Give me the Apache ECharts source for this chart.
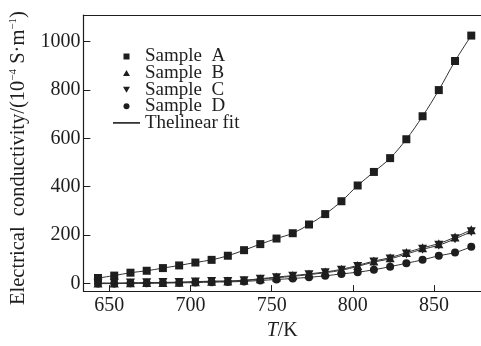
<!DOCTYPE html>
<html>
<head>
<meta charset="utf-8">
<script src="https://cdn.jsdelivr.net/npm/echarts@6/dist/echarts.min.js"></script>
<style>
html,body{margin:0;padding:0;background:#fff;}
#c{width:481px;height:346px;}
</style>
</head>
<body>
<div id="c"></div>
<script>
const temps = [643,653,663,673,683,693,703,713,723,733,743,753,763,773,783,793,803,813,823,833,843,853,863,873];
const sampleA = [23,33,45,53,64,75,87,98,115,138,163,186,208,244,287,340,405,461,518,596,691,799,919,1024];
const sampleB = [2,2,3,4,5,6,8,10,11,14,20,27,33,40,48,59,75,93,107,128,148,165,192,222];
const sampleC = [1,1,2,3,4,5,7,9,9,12,18,24,30,37,45,55,71,89,102,122,142,158,185,214];
const sampleD = [0,0,1,1,2,3,4,6,7,9,13,17,21,26,32,40,47,57,70,84,98,115,128,152];
const xTicks = [650,700,750,800,850];
const yTicks = [0,200,400,600,800,1000];
const seriesNames = ['Sample  A','Sample  B','Sample  C','Sample  D','Thelinear fit'];

const ink = '#1e1e1e';
const lineCol = '#333';
const serif = '"Liberation Serif","DejaVu Serif",serif';
const downTri = 'path://M0,0L10,0L5,8.7Z';
const upTri = 'path://M5,0L10,8.7L0,8.7Z';
const sq = 'path://M0,0H10V10H0Z';
const lineIcon = 'path://M0,0H27V1.6H0Z';

function pairs(vals){ return temps.map((t,i)=>[t, vals[i]]); }

function mkSeries(name, vals, symbol, size){
  return {
    name: name, type: 'line', smooth: 0.35,
    data: pairs(vals),
    symbol: symbol, symbolSize: size,
    showAllSymbol: true,
    itemStyle: {color: ink},
    lineStyle: {color: lineCol, width: 1},
    emphasis: {disabled: true},
    z: 3
  };
}

const chart = echarts.init(document.getElementById('c'), null, {renderer: 'canvas'});
chart.setOption({
  animation: false,
  backgroundColor: '#fff',
  grid: {left: 80, right: 0, top: 15, bottom: 51, containLabel: false},
  legend: {
    orient: 'vertical', left: 113, top: 47, padding: 0,
    itemWidth: 27, itemHeight: 6, itemGap: -2.4,
    selectedMode: false,
    textStyle: {fontFamily: serif, fontSize: 19, color: ink},
    data: [
      {name: seriesNames[0], icon: sq},
      {name: seriesNames[1], icon: upTri},
      {name: seriesNames[2], icon: downTri},
      {name: seriesNames[3], icon: 'circle'},
      {name: seriesNames[4], icon: lineIcon}
    ]
  },
  xAxis: [{
    type: 'value', min: 634, max: 879,
    position: 'bottom',
    name: '{i|T}{n|/K}',
    nameLocation: 'middle', nameGap: 22,
    nameTextStyle: {rich: {
      i: {fontFamily: serif, fontStyle: 'italic', fontSize: 20, color: ink},
      n: {fontFamily: serif, fontSize: 20, color: ink}
    }},
    axisLine: {show: true, onZero: false, lineStyle: {color: ink, width: 1.2}},
    axisTick: {show: true, inside: true, length: 6, customValues: xTicks, lineStyle: {color: ink}},
    axisLabel: {customValues: xTicks, margin: 5, fontFamily: serif, fontSize: 20, color: ink},
    splitLine: {show: false}
  },{
    type: 'value', min: 634, max: 879, position: 'top',
    axisLine: {show: true, onZero: false, lineStyle: {color: ink, width: 1.2}},
    axisTick: {show: false}, axisLabel: {show: false}, splitLine: {show: false}
  }],
  yAxis: {
    type: 'value', min: -31, max: 1109,
    name: '{a|Electrical  conductivity/(10}{s|−4}{a| S·m}{s|−1}{a|)}',
    nameLocation: 'middle', nameGap: 52,
    nameTextStyle: {padding: [0, 10, 0, 0], rich: {
      a: {fontFamily: serif, fontSize: 20.5, color: ink, lineHeight: 22},
      s: {fontFamily: serif, fontSize: 11, color: ink, verticalAlign: 'top', lineHeight: 22, padding: [0,0,8,0]}
    }},
    axisLine: {show: true, onZero: false, lineStyle: {color: ink, width: 1.2}},
    axisTick: {show: true, inside: true, length: 7, customValues: yTicks, lineStyle: {color: ink}},
    axisLabel: {customValues: yTicks, margin: 3, fontFamily: serif, fontSize: 20, color: ink,
      formatter: function(v){ return String(v); }},
    splitLine: {show: false}
  },
  series: [
    mkSeries(seriesNames[0], sampleA, 'rect', 8),
    mkSeries(seriesNames[1], sampleB, 'triangle', 9),
    mkSeries(seriesNames[2], sampleC, downTri, 9),
    mkSeries(seriesNames[3], sampleD, 'circle', 8),
    {name: seriesNames[4], type: 'line', data: [], itemStyle: {color: ink}, lineStyle: {color: ink}}
  ]
});
</script>
</body>
</html>
